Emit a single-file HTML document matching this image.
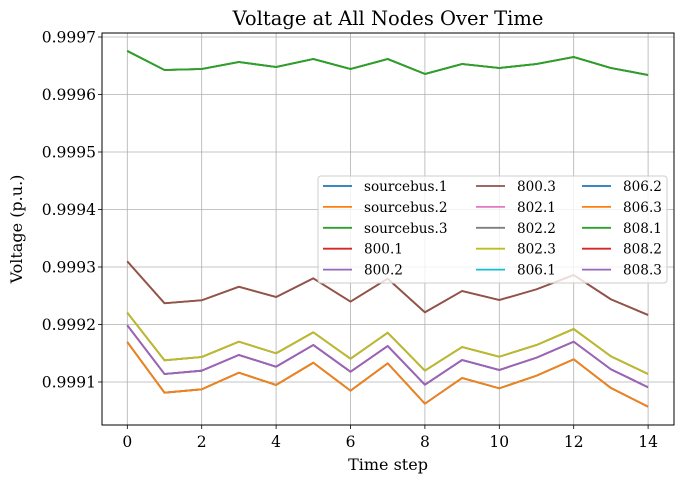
<!DOCTYPE html>
<html><head><meta charset="utf-8"><style>
body{margin:0;background:#fff}
svg{display:block;font-family:"DejaVu Serif","Liberation Serif",serif}
</style></head><body>
<svg id="chart" width="684" height="484" viewBox="0 0 684 484" xmlns="http://www.w3.org/2000/svg">
<rect width="684" height="484" fill="#fff"/>
<g id="grid"></g>
<g id="series"></g>
<rect x="102" y="33" width="572" height="392" fill="none" stroke="#000" stroke-width="1"/>
<g id="ticks"></g>
<text x="388" y="25" text-anchor="middle" font-size="19.5">Voltage at All Nodes Over Time</text>
<text x="388" y="470" text-anchor="middle" font-size="16">Time step</text>
<text transform="translate(22,229) rotate(-90)" text-anchor="middle" font-size="16">Voltage (p.u.)</text>
<g id="legend"></g>
</svg>
<script>
const names = ["sourcebus.1","sourcebus.2","sourcebus.3","800.1","800.2","800.3","802.1","802.2","802.3","806.1","806.2","806.3","808.1","808.2","808.3"];
const colors = ["#1f77b4","#ff7f0e","#2ca02c","#d62728","#9467bd","#8c564b","#e377c2","#7f7f7f","#bcbd22","#17becf","#1f77b4","#ff7f0e","#2ca02c","#d62728","#9467bd"];
const steps = [0,1,2,3,4,5,6,7,8,9,10,11,12,13,14];
const greenVals = [0.9996757,0.9996426,0.9996443,0.9996565,0.9996478,0.9996617,0.9996443,0.9996617,0.9996357,0.9996530,0.9996461,0.9996530,0.9996652,0.9996461,0.9996339];
const brownVals = [0.99930990,0.99923700,0.99924210,0.99926570,0.99924780,0.99928030,0.99923970,0.99927970,0.99922120,0.99925830,0.99924260,0.99926120,0.99928610,0.99924380,0.99921650];
const oliveVals = [0.99922050,0.99913770,0.99914350,0.99917010,0.99914990,0.99918640,0.99914050,0.99918570,0.99911970,0.99916090,0.99914400,0.99916430,0.99919220,0.99914470,0.99911390];
const purpleVals = [0.99919860,0.99911390,0.99911970,0.99914700,0.99912660,0.99916430,0.99911790,0.99916260,0.99909530,0.99913830,0.99912090,0.99914230,0.99917010,0.99912210,0.99909080];
const orangeVals = [0.99916960,0.99908140,0.99908730,0.99911620,0.99909480,0.99913360,0.99908490,0.99913250,0.99906230,0.99910700,0.99908900,0.99911100,0.99913950,0.99908960,0.99905700];
const seriesData = [greenVals,greenVals,greenVals,brownVals,purpleVals,brownVals,oliveVals,oliveVals,oliveVals,orangeVals,orangeVals,orangeVals,greenVals,purpleVals,purpleVals];
const xTicks = [0,2,4,6,8,10,12,14];
const yTicks = [0.9991,0.9992,0.9993,0.9994,0.9995,0.9996,0.9997];
const yTickLabels = ["0.9991","0.9992","0.9993","0.9994","0.9995","0.9996","0.9997"];

const NS="http://www.w3.org/2000/svg";
const X0=127.3, XU=37.2, Y0=382, YU=575000;
function xs(v){return X0+v*XU;}
function ys(v){return Y0-(v-0.9991)*YU;}
function mk(t,a,p){const e=document.createElementNS(NS,t);for(const k in a)e.setAttribute(k,a[k]);p.appendChild(e);return e;}
const grid=document.getElementById('grid'),ticks=document.getElementById('ticks'),ser=document.getElementById('series'),leg=document.getElementById('legend');
xTicks.forEach(t=>{const x=xs(t);
 const g=mk('line',{x1:x,x2:x,y1:33,y2:425,stroke:'#b0b0b0','stroke-width':0.8},grid);
 
 
 const tk=mk('line',{x1:x,x2:x,y1:425,y2:429,stroke:'#000','stroke-width':0.8},ticks);
 
 
 const tx=mk('text',{x:x,y:447,'text-anchor':'middle','font-size':15.5},ticks);tx.textContent=t;
 
 
});
yTicks.forEach((t,i)=>{const y=ys(t);
 const g=mk('line',{x1:102,x2:674,y1:y,y2:y,stroke:'#b0b0b0','stroke-width':0.8},grid);
 
 
 const tk=mk('line',{x1:98,x2:102,y1:y,y2:y,stroke:'#000','stroke-width':0.8},ticks);
 
 
 const tx=mk('text',{x:96,y:y+5.5,'text-anchor':'end','font-size':15.5},ticks);tx.textContent=yTickLabels[i];
 
 
});
seriesData.forEach((vals,i)=>{
 const pts=vals.map((v,j)=>xs(steps[j]).toFixed(2)+','+ys(v).toFixed(2)).join(' ');
 const p=mk('polyline',{points:pts,fill:'none',stroke:colors[i],'stroke-width':1.8,'stroke-linejoin':'round'},ser);
 
 
});
const lb=mk('rect',{x:318,y:176,width:349,height:107,rx:3,fill:'#fff','fill-opacity':0.8,stroke:'#ccc','stroke-width':1},leg);


const colX=[323,476,582];
names.forEach((n,i)=>{const c=Math.floor(i/5),r=i%5;const x=colX[c],y=186+r*20.9;
 const g=mk('g',{},leg);
 
 
 mk('line',{x1:x,x2:x+29,y1:y,y2:y,stroke:colors[i],'stroke-width':1.8},g);
 const t=mk('text',{x:x+41,y:y+5,'font-size':13.6},g);t.textContent=n;
});
</script>
</body></html>
